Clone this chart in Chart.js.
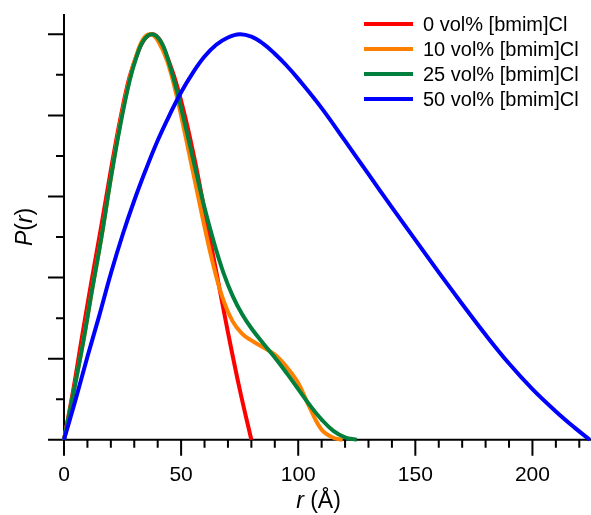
<!DOCTYPE html>
<html>
<head>
<meta charset="utf-8">
<script src="https://cdn.jsdelivr.net/npm/chart.js@4.4.0/dist/chart.umd.min.js"></script>
<style>
  html, body { margin: 0; padding: 0; background: #fff; }
  #wrap { width: 591px; height: 515px; position: relative; }
</style>
</head>
<body>
<div id="wrap"><canvas id="prChart"></canvas></div>
<script>
// series names and colours
const seriesLabels = ["0 vol% [bmim]Cl", "10 vol% [bmim]Cl", "25 vol% [bmim]Cl", "50 vol% [bmim]Cl"];
const seriesColors = ["#ff0000", "#ff8000", "#00803c", "#0000ff"];

// r (Å) and normalised P(r)
const r0 = [0, 4, 8, 12, 16, 20, 24, 28, 32, 35, 38, 41, 44, 48, 52, 56, 60, 65, 70, 75, 80];
const p0 = [0, 0.125, 0.265, 0.40, 0.53, 0.665, 0.79, 0.895, 0.962, 0.992, 1.0, 0.985, 0.945, 0.878, 0.79, 0.685, 0.565, 0.415, 0.265, 0.125, 0];

const r10 = [0, 4, 8, 12, 16, 20, 24, 28, 31, 34, 37, 40, 44, 48, 52, 56, 60, 64, 68, 72, 76, 80, 85, 90, 95, 100, 105, 110, 115, 119];
const p10 = [0, 0.115, 0.235, 0.37, 0.50, 0.645, 0.78, 0.89, 0.95, 0.99, 1.0, 0.985, 0.935, 0.85, 0.745, 0.635, 0.525, 0.425, 0.345, 0.292, 0.262, 0.245, 0.228, 0.21, 0.18, 0.14, 0.078, 0.025, 0.005, 0];

const r25 = [0, 4, 8, 12, 16, 20, 24, 28, 31, 34, 37.5, 41, 44, 48, 52, 56, 60, 64, 68, 72, 76, 80, 85, 90, 95, 100, 105, 110, 115, 120, 125];
const p25 = [0, 0.115, 0.235, 0.37, 0.50, 0.645, 0.775, 0.885, 0.945, 0.985, 1.0, 0.985, 0.945, 0.865, 0.77, 0.67, 0.572, 0.487, 0.413, 0.355, 0.31, 0.275, 0.238, 0.203, 0.165, 0.125, 0.085, 0.05, 0.022, 0.006, 0];

const r50 = [0, 5, 10, 15, 20, 25, 30, 35, 40, 45, 50, 55, 60, 65, 70, 75, 80, 85, 90, 95, 100, 110, 120, 130, 140, 150, 160, 170, 180, 190, 200, 210, 218, 224.5];
const p50 = [0, 0.10, 0.205, 0.305, 0.41, 0.505, 0.59, 0.667, 0.738, 0.80, 0.857, 0.905, 0.945, 0.974, 0.992, 1.0, 0.994, 0.977, 0.952, 0.923, 0.89, 0.818, 0.737, 0.655, 0.573, 0.493, 0.413, 0.335, 0.259, 0.188, 0.125, 0.070, 0.030, 0];

const xTickLabels = [0, 50, 100, 150, 200];

const allR = [r0, r10, r25, r50];
const allP = [p0, p10, p25, p50];

function toPoints(rs, ps) {
    return rs.map(function (r, i) { return { x: r, y: ps[i] }; });
}

const fontFamily = "'Liberation Sans', Arial, sans-serif";

// axis lines, major/minor ticks and axis titles
const axisDecor = {
    id: 'axisDecor',
    beforeDatasetsDraw(chart) {
        const ctx = chart.ctx;
        const area = chart.chartArea;
        const xs = chart.scales.x;
        const ys = chart.scales.y;
        const x0 = xs.getPixelForValue(0);
        const y0 = ys.getPixelForValue(0);
        ctx.save();
        ctx.strokeStyle = '#000';
        ctx.lineWidth = 2;
        ctx.beginPath();
        ctx.moveTo(x0 - 16, y0);
        ctx.lineTo(area.right, y0);
        ctx.moveTo(x0, area.top);
        ctx.lineTo(x0, y0 + 16);
        for (let v = 10; v <= 220; v += 10) {
            const px = xs.getPixelForValue(v);
            const len = v % 50 === 0 ? 16 : 8;
            ctx.moveTo(px, y0);
            ctx.lineTo(px, y0 + len);
        }
        for (let k = 1; k <= 10; k++) {
            const py = ys.getPixelForValue(k / 10);
            const len = k % 2 === 0 ? 16 : 8;
            ctx.moveTo(x0, py);
            ctx.lineTo(x0 - len, py);
        }
        ctx.stroke();

        // x title: italic r + " (Å)"
        ctx.fillStyle = '#000';
        ctx.textBaseline = 'alphabetic';
        const it = 'italic 23px ' + fontFamily;
        const nm = '23px ' + fontFamily;
        ctx.font = it;
        const w1 = ctx.measureText('r').width;
        ctx.font = nm;
        const w2 = ctx.measureText(' (Å)').width;
        let sx = (area.left + area.right) / 2 - 9 - (w1 + w2) / 2;
        ctx.font = it;
        ctx.fillText('r', sx, 508);
        ctx.font = nm;
        ctx.fillText(' (Å)', sx + w1, 508);

        // y title: P(r) rotated
        ctx.translate(32, (area.top + area.bottom) / 2);
        ctx.rotate(-Math.PI / 2);
        const parts = [['P', it], ['(', nm], ['r', it], [')', nm]];
        let total = 0;
        parts.forEach(function (p) { ctx.font = p[1]; total += ctx.measureText(p[0]).width; });
        let cx = -total / 2;
        parts.forEach(function (p) {
            ctx.font = p[1];
            ctx.fillText(p[0], cx, 0);
            cx += ctx.measureText(p[0]).width;
        });
        ctx.restore();
    },
    afterDraw(chart) {
        // legend, top right, one row per dataset
        const ctx = chart.ctx;
        ctx.save();
        ctx.font = '20px ' + fontFamily;
        ctx.textBaseline = 'middle';
        ctx.fillStyle = '#000';
        chart.data.datasets.forEach(function (ds, i) {
            const yy = 24 + i * 25;
            ctx.strokeStyle = ds.borderColor;
            ctx.lineWidth = 4;
            ctx.beginPath();
            ctx.moveTo(364, yy);
            ctx.lineTo(413, yy);
            ctx.stroke();
            ctx.fillText(ds.label, 423, yy + 1);
        });
        ctx.restore();
    }
};

const datasets = seriesLabels.map(function (lbl, i) {
    return {
        label: lbl,
        data: toPoints(allR[i], allP[i]),
        borderColor: seriesColors[i],
        backgroundColor: seriesColors[i],
        borderWidth: 4,
        pointRadius: 0,
        fill: false,
        tension: 0.4,
        order: 4 - i,
        clip: 4
    };
});

new Chart(document.getElementById('prChart'), {
    type: 'line',
    data: { datasets: datasets },
    options: {
        responsive: true,
        maintainAspectRatio: false,
        animation: false,
        layout: { padding: { left: 64, right: 0, top: 14, bottom: 20 } },
        plugins: {
            legend: { display: false },
            tooltip: { enabled: false },
            title: { display: false }
        },
        scales: {
            x: {
                type: 'linear',
                min: 0,
                max: 225,
                grid: {
                    display: true,
                    drawOnChartArea: false,
                    drawTicks: true,
                    tickLength: 16,
                    color: 'rgba(0,0,0,0)'
                },
                border: { display: false },
                ticks: {
                    stepSize: 50,
                    includeBounds: false,
                    autoSkip: false,
                    maxRotation: 0,
                    padding: 7,
                    color: '#000',
                    font: { family: fontFamily, size: 21 },
                    callback: function (v) { return xTickLabels.includes(v) ? String(v) : null; }
                }
            },
            y: {
                type: 'linear',
                display: false,
                min: 0,
                max: 1.05
            }
        }
    },
    plugins: [axisDecor]
});
</script>
</body>
</html>
